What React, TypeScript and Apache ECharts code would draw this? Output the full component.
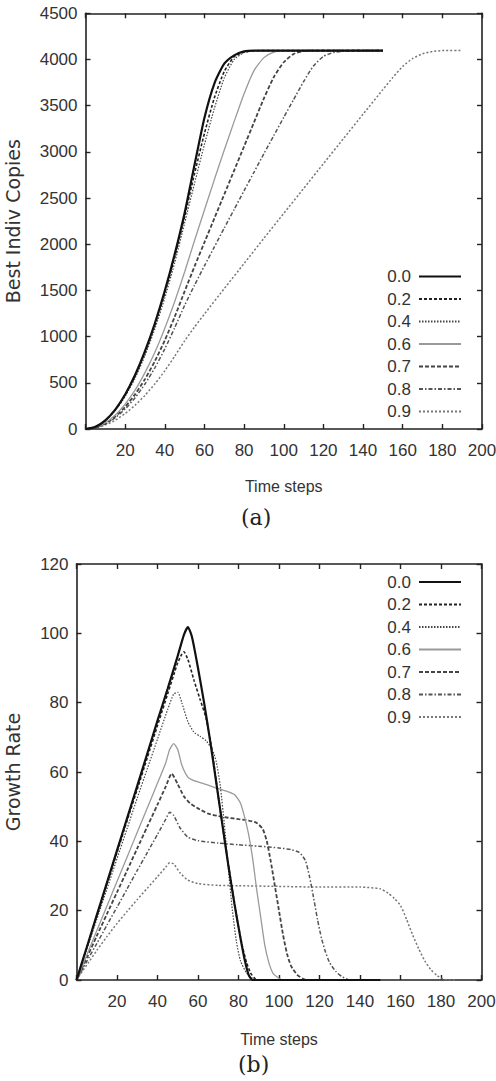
import React, { useEffect, useRef } from "react";
import * as echarts from "echarts";

// ---------- data ----------
const SERIES_NAMES = ["0.0", "0.2", "0.4", "0.6", "0.7", "0.8", "0.9"];
const X_MIN = 0;
const X_MAX = 200;
const X_STEP = 20;
const A_Y_MAX = 4500;
const A_Y_STEP = 500;
const B_Y_MAX = 120;
const B_Y_STEP = 20;

// (a) Best individual copies
const A_T = [0, 5, 10, 15, 20, 25, 30, 35, 40, 45, 50, 55, 60, 65, 70, 75, 80, 85, 90, 95, 100, 105, 110, 115, 120, 125, 130, 135, 140, 145, 150];
const A00 = [0, 23, 94, 210, 374, 584, 842, 1145, 1496, 1893, 2338, 2860, 3370, 3740, 3955, 4045, 4088, 4096, 4096, 4096, 4096, 4096, 4096, 4096, 4096, 4096, 4096, 4096, 4096, 4096, 4096];
const A02 = [0, 23, 92, 207, 368, 575, 828, 1127, 1472, 1863, 2300, 2765, 3200, 3585, 3870, 4030, 4080, 4094, 4096, 4096, 4096, 4096, 4096, 4096, 4096, 4096, 4096, 4096, 4096, 4096, 4096];
const A04 = [0, 22, 88, 198, 352, 550, 795, 1085, 1420, 1800, 2230, 2660, 3080, 3470, 3800, 4000, 4075, 4094, 4096, 4096, 4096, 4096, 4096, 4096, 4096, 4096, 4096, 4096, 4096, 4096, 4096];
const A06 = [0, 17, 68, 152, 270, 420, 610, 830, 1090, 1380, 1700, 2040, 2370, 2700, 3020, 3330, 3630, 3880, 4020, 4080, 4096, 4096, 4096, 4096, 4096, 4096, 4096, 4096, 4096, 4096, 4096];
const A07 = [0, 15, 60, 135, 240, 375, 540, 735, 960, 1215, 1490, 1760, 2020, 2280, 2540, 2800, 3060, 3320, 3580, 3810, 3970, 4060, 4092, 4096, 4096, 4096, 4096, 4096, 4096, 4096, 4096];
const A08 = [0, 13, 55, 122, 216, 339, 487, 663, 867, 1097, 1338, 1557, 1766, 1971, 2176, 2378, 2580, 2780, 2980, 3177, 3374, 3567, 3760, 3930, 4033, 4075, 4090, 4096, 4096, 4096, 4096];
const A09_T = [0, 5, 10, 15, 20, 25, 30, 35, 40, 45, 50, 55, 60, 70, 80, 90, 100, 110, 120, 130, 140, 150, 155, 160, 165, 170, 175, 180, 190];
const A09 = [0, 11, 43, 95, 167, 257, 365, 489, 630, 788, 954, 1104, 1245, 1520, 1792, 2065, 2334, 2603, 2872, 3140, 3408, 3674, 3805, 3925, 4010, 4062, 4086, 4096, 4096];

// (b) Growth rate
const B00_T = [0, 5, 10, 15, 20, 25, 30, 35, 40, 45, 50, 53, 55, 57, 60, 63, 66, 69, 72, 75, 78, 81, 83, 85, 87, 90, 100, 150];
const B00 = [0, 9.3, 18.7, 28, 37.4, 46.7, 56, 65.4, 74.8, 84, 93.5, 99.5, 101.8, 99, 90, 80, 69, 57, 45, 33, 22, 12, 6, 1.5, 0, 0, 0, 0];
const B02_T = [0, 5, 10, 15, 20, 25, 30, 35, 40, 45, 48, 50, 52, 53, 55, 58, 61, 64, 67, 70, 73, 76, 79, 82, 84, 86, 88, 90, 100, 150];
const B02 = [0, 9.2, 18.4, 27.6, 36.8, 46, 55, 64.2, 73.4, 82.5, 88, 91.5, 94, 94.7, 92.5, 86.5, 81, 75.5, 66, 53, 41, 29.5, 18.5, 9.5, 5, 2, 0.5, 0, 0, 0];
const B04_T = [0, 5, 10, 15, 20, 25, 30, 35, 40, 45, 48, 50, 52, 55, 58, 61, 64, 67, 69, 71, 73, 75, 77, 79, 81, 84, 87, 90, 100, 150];
const B04 = [0, 8.7, 17.5, 26.2, 35, 43.7, 52.5, 61, 69.5, 78, 82.5, 83, 80, 74.5, 71.5, 70.3, 69, 66.5, 63, 56, 45, 32, 20, 11, 5.5, 2, 0.5, 0, 0, 0];
const B06_T = [0, 5, 10, 15, 20, 25, 30, 35, 40, 44, 46, 48, 50, 52, 55, 58, 62, 66, 70, 74, 78, 81, 83, 85, 87, 89, 91, 93, 95, 97, 100, 102, 110, 150];
const B06 = [0, 7.1, 14.2, 21.3, 28.4, 35.5, 42.6, 49.7, 56.8, 62.5, 66.5, 68.2, 66.5, 62, 58.5, 57.5, 56.8, 56, 55.2, 54.5, 53.5, 51, 47, 42, 35, 26, 18, 10, 5, 2, 0.5, 0, 0, 0];
const B07_T = [0, 5, 10, 15, 20, 25, 30, 35, 40, 44, 47, 50, 53, 56, 60, 65, 70, 75, 80, 85, 89, 92, 94, 96, 98, 100, 102, 104, 106, 109, 112, 115, 120, 150];
const B07 = [0, 6.3, 12.7, 19, 25.3, 31.6, 38, 44.3, 50.6, 55.7, 59.5, 56.5, 53, 51, 49.5, 48, 47.3, 46.8, 46.4, 46, 45.3, 43.5, 40, 34, 27, 20, 13, 7.5, 4, 1.5, 0.3, 0, 0, 0];
const B08_T = [0, 5, 10, 15, 20, 25, 30, 35, 40, 44, 46, 48, 51, 55, 60, 70, 80, 90, 100, 106, 110, 113, 115, 117, 119, 121, 123, 125, 128, 131, 135, 150];
const B08 = [0, 5.3, 10.5, 15.8, 21, 26.3, 31.6, 36.8, 42, 46.3, 48.4, 47.5, 44, 41.2, 40.2, 39.5, 39, 38.6, 38.1, 37.6, 36.8, 34.5, 30, 24, 17.5, 12, 8, 5, 2.5, 1, 0, 0];
const B09_T = [0, 3, 6, 10, 15, 20, 25, 30, 35, 40, 44, 46, 48, 51, 55, 60, 70, 80, 100, 120, 140, 150, 154, 157, 160, 163, 166, 169, 172, 175, 178, 181, 184, 188];
const B09 = [0, 2.6, 5.1, 8.5, 12.5, 16.3, 19.8, 23.2, 26.5, 29.8, 32.5, 33.8, 33.5, 31, 28.8, 27.8, 27.3, 27.2, 27, 26.8, 26.8, 26.3, 25, 23.5, 21.5, 17.5, 13, 9, 5.5, 3, 1.3, 0.3, 0, 0];

const A_SERIES: [number[], number[]][] = [
  [A_T, A00],
  [A_T, A02],
  [A_T, A04],
  [A_T, A06],
  [A_T, A07],
  [A_T, A08],
  [A09_T, A09],
];
const B_SERIES: [number[], number[]][] = [
  [B00_T, B00],
  [B02_T, B02],
  [B04_T, B04],
  [B06_T, B06],
  [B07_T, B07],
  [B08_T, B08],
  [B09_T, B09],
];

// ---------- styles ----------
const TICK_FONT = "'Liberation Sans', Arial, sans-serif";
const TITLE_FONT = "'DejaVu Sans', 'Liberation Sans', sans-serif";
const INK = "#222";
const LABEL = "#333";

const LINE_STYLES: any[] = [
  { color: "#111", width: 2.2, type: "solid" },
  { color: "#222", width: 1.6, type: [3, 2] },
  { color: "#444", width: 1.2, type: [1.5, 1.5] },
  { color: "#9a9a9a", width: 1.3, type: "solid" },
  { color: "#444", width: 1.8, type: [4, 2] },
  { color: "#555", width: 1.5, type: [4, 2, 1.5, 2] },
  { color: "#777", width: 1.5, type: [2, 2] },
];

function pairs(t: number[], v: number[]) {
  return t.map((x, i) => [x, v[i]]);
}

function makeXAxes(gridIndex: number, nameGap: number) {
  const common = {
    type: "value",
    gridIndex,
    min: X_MIN,
    max: X_MAX,
    interval: X_STEP,
    splitLine: { show: false },
    axisLine: { show: true, onZero: false, lineStyle: { color: INK, width: 1.6 } },
    axisTick: { show: true, inside: true, length: 5, lineStyle: { color: INK, width: 1.4 } },
  };
  return [
    {
      ...common,
      position: "bottom",
      axisLabel: {
        show: true,
        margin: 13,
        fontSize: 17,
        fontFamily: TICK_FONT,
        color: LABEL,
        formatter: (v: number) => (v === 0 ? "" : String(v)),
      },
      name: "Time steps",
      nameLocation: "middle",
      nameGap,
      nameTextStyle: { fontSize: 16, fontFamily: TICK_FONT, color: LABEL },
    },
    { ...common, position: "top", axisLabel: { show: false } },
  ];
}

function makeYAxes(gridIndex: number, max: number, step: number, name: string, nameGap: number) {
  const common = {
    type: "value",
    gridIndex,
    min: 0,
    max,
    interval: step,
    splitLine: { show: false },
    axisLine: { show: true, onZero: false, lineStyle: { color: INK, width: 1.6 } },
    axisTick: { show: true, inside: true, length: 5, lineStyle: { color: INK, width: 1.4 } },
  };
  return [
    {
      ...common,
      position: "left",
      axisLabel: {
        show: true,
        margin: 8,
        fontSize: 17,
        fontFamily: TICK_FONT,
        color: LABEL,
        formatter: (v: number) => String(v),
      },
      name,
      nameLocation: "middle",
      nameRotate: 90,
      nameGap,
      nameTextStyle: { fontSize: 19, fontFamily: TITLE_FONT, color: LABEL },
    },
    { ...common, position: "right", axisLabel: { show: false } },
  ];
}

function makeSeries(list: [number[], number[]][], axisIndex: number) {
  return list.map(([t, v], i) => ({
    name: SERIES_NAMES[i],
    type: "line",
    xAxisIndex: axisIndex,
    yAxisIndex: axisIndex,
    data: pairs(t, v),
    showSymbol: false,
    symbol: "none",
    smooth: 0.2,
    lineStyle: LINE_STYLES[i],
    itemStyle: { color: LINE_STYLES[i].color },
    z: 10 - i,
  }));
}

function makeLegend(top: number) {
  return {
    data: SERIES_NAMES,
    orient: "vertical",
    right: 29,
    top,
    align: "right",
    itemWidth: 42,
    itemHeight: 14,
    itemGap: 5.5,
    selectedMode: false,
    itemStyle: { opacity: 0 },
    textStyle: { fontSize: 17, fontFamily: TICK_FONT, color: LABEL, padding: [0, 3, 0, 0] },
  };
}

export default function App() {
  const ref = useRef<HTMLDivElement>(null);
  useEffect(() => {
    if (!ref.current) return;
    const chart = echarts.init(ref.current, undefined, { renderer: "svg" });
    const option: any = {
      animation: false,
      backgroundColor: "#fff",
      grid: [
        { left: 85.5, top: 13.3, width: 396.5, height: 415.7, outerBoundsMode: "none" },
        { left: 76.5, top: 564, width: 405, height: 416, outerBoundsMode: "none" },
      ],
      xAxis: [...makeXAxes(0, 49), ...makeXAxes(1, 51)],
      yAxis: [
        ...makeYAxes(0, A_Y_MAX, A_Y_STEP, "Best Indiv Copies", 63),
        ...makeYAxes(1, B_Y_MAX, B_Y_STEP, "Growth Rate", 54),
      ],
      legend: [makeLegend(263), makeLegend(568.5)],
      series: [...makeSeries(A_SERIES, 0), ...makeSeries(B_SERIES, 2)],
      graphic: [
        {
          type: "text",
          left: 241,
          top: 506,
          style: { text: "(a)", fontSize: 22, fontFamily: "'DejaVu Serif', 'Liberation Serif', serif", fill: "#222" },
        },
        {
          type: "text",
          left: 238,
          top: 1053,
          style: { text: "(b)", fontSize: 22, fontFamily: "'DejaVu Serif', 'Liberation Serif', serif", fill: "#222" },
        },
      ],
    };
    chart.setOption(option);
    return () => chart.dispose();
  }, []);
  return (
    <div
      ref={ref}
      style={{ position: "absolute", left: 0, top: 0, width: 496, height: 1081, background: "#fff" }}
    />
  );
}
